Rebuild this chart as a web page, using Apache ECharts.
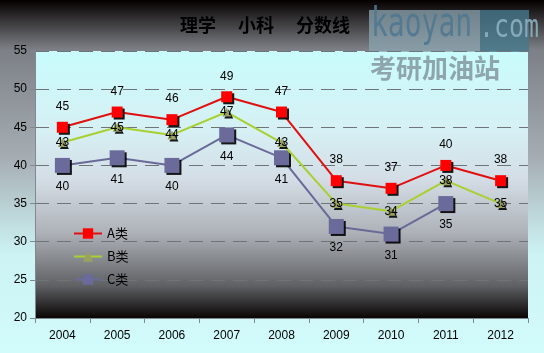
<!DOCTYPE html>
<html>
<head>
<meta charset="utf-8">
<script src="https://cdn.jsdelivr.net/npm/echarts@6/dist/echarts.min.js"></script>
<style>
html, body { margin: 0; padding: 0; }
#container { width: 544px; height: 353px; }
</style>
</head>
<body>
<div id="container"></div>
<script>
var years = ['2004', '2005', '2006', '2007', '2008', '2009', '2010', '2011', '2012'];
var seriesA = [45, 47, 46, 49, 47, 38, 37, 40, 38];
var seriesB = [43, 45, 44, 47, 43, 35, 34, 38, 35];
var seriesC = [40, 41, 40, 44, 41, 32, 31, 35, null];
var yTicks = { min: 20, max: 55, interval: 5 };

var shadow = {
    shadowColor: 'rgba(0,0,0,0.9)',
    shadowOffsetX: 2,
    shadowOffsetY: 2,
    shadowBlur: 0
};

var option = {
    backgroundColor: {
        type: 'linear', x: 0, y: 0, x2: 0, y2: 1,
        colorStops: [
            { offset: 0, color: '#050000' },
            { offset: 0.14, color: '#7c8086' },
            { offset: 0.45, color: '#a6aeb4' },
            { offset: 0.72, color: '#cdf3f4' },
            { offset: 1, color: '#d2fbfb' }
        ]
    },
    title: {
        text: '理学　 小科　 分数线',
        left: 260,
        textAlign: 'center',
        top: 11,
        textStyle: {
            fontFamily: 'Noto Sans CJK SC',
            fontSize: 18,
            fontWeight: 'bold',
            color: '#000'
        }
    },
    legend: {
        data: ['A类', 'B类', 'C类'],
        orient: 'vertical',
        left: 68,
        top: 222,
        itemGap: 10,
        itemWidth: 28,
        itemHeight: 13,
        textStyle: { fontSize: 13, color: '#000', fontFamily: 'Noto Sans CJK SC' }
    },
    grid: {
        left: 35,
        right: 16,
        top: 51,
        bottom: 35,
        show: true,
        borderWidth: 0,
        backgroundColor: {
            type: 'linear', x: 0, y: 0, x2: 0, y2: 1,
            colorStops: [
                { offset: 0, color: '#c9fcfc' },
                { offset: 0.3, color: '#d6f0f4' },
                { offset: 0.48, color: '#d4dde6' },
                { offset: 0.68, color: '#aeb2b8' },
                { offset: 0.88, color: '#5e6064' },
                { offset: 1, color: '#0a0505' }
            ]
        }
    },
    graphic: [
        {
            type: 'rect',
            shape: { x: 369, y: 10, width: 111, height: 42 },
            style: { fill: 'rgba(140,165,178,0.75)' }
        },
        {
            type: 'rect',
            shape: { x: 480, y: 10, width: 49, height: 42 },
            style: { fill: 'rgba(70,120,140,0.8)' }
        },
        {
            type: 'text',
            x: 371, y: 6,
            scaleX: 0.7,
            style: { text: 'kaoyan', fontSize: 40, fontFamily: 'DejaVu Sans Mono', fill: 'rgba(80,120,145,0.9)' }
        },
        {
            type: 'text',
            x: 479, y: 13,
            scaleX: 0.78,
            style: { text: '.com', fontSize: 32, fontFamily: 'DejaVu Sans Mono', fill: 'rgba(140,175,190,0.9)' }
        },
        {
            type: 'text',
            x: 370, y: 55,
            style: { text: '考研加油站', fontSize: 26, fontWeight: 'bold', fontFamily: 'Noto Sans CJK SC', fill: 'rgba(130,150,160,0.85)' }
        }
    ],
    xAxis: {
        type: 'category',
        data: years,
        boundaryGap: true,
        axisLine: { lineStyle: { color: '#808890', width: 1 } },
        axisTick: { show: true, length: 5, lineStyle: { color: '#808890' } },
        axisLabel: { color: '#000', fontSize: 12, margin: 12, fontFamily: 'Liberation Sans' }
    },
    yAxis: {
        type: 'value',
        min: yTicks.min,
        max: yTicks.max,
        interval: yTicks.interval,
        axisLine: { show: true, lineStyle: { color: '#808890' } },
        axisTick: { show: true, length: 5, lineStyle: { color: '#808890' } },
        axisLabel: { color: '#000', fontSize: 12, margin: 8, fontFamily: 'Liberation Sans' },
        splitLine: {
            lineStyle: { color: '#6e7478', type: [14, 8], width: 1 }
        }
    },
    series: [
        {
            name: 'A类',
            type: 'line',
            data: seriesA,
            symbol: 'rect',
            symbolSize: 11,
            lineStyle: { color: '#e01010', width: 2 },
            itemStyle: Object.assign({ color: '#ff0000' }, shadow),
            label: { show: true, position: 'top', distance: 9, color: '#000', fontSize: 12, fontFamily: 'Liberation Sans' },
            z: 4
        },
        {
            name: 'B类',
            type: 'line',
            data: seriesB,
            symbol: 'triangle',
            symbolSize: 9,
            lineStyle: { color: '#a8d030', width: 2 },
            itemStyle: Object.assign({ color: '#9aa060' }, shadow),
            label: { show: true, position: 'inside', color: '#000', fontSize: 12, fontFamily: 'Liberation Sans' },
            z: 3
        },
        {
            name: 'C类',
            type: 'line',
            data: seriesC,
            symbol: 'rect',
            symbolSize: 15,
            lineStyle: { color: '#6a6a98', width: 2 },
            itemStyle: Object.assign({ color: '#6b6b9b' }, shadow),
            label: { show: true, position: 'bottom', distance: 8, color: '#000', fontSize: 12, fontFamily: 'Liberation Sans' },
            z: 2
        }
    ]
};

var myChart = echarts.init(document.getElementById('container'));
myChart.setOption(option);
</script>
</body>
</html>
